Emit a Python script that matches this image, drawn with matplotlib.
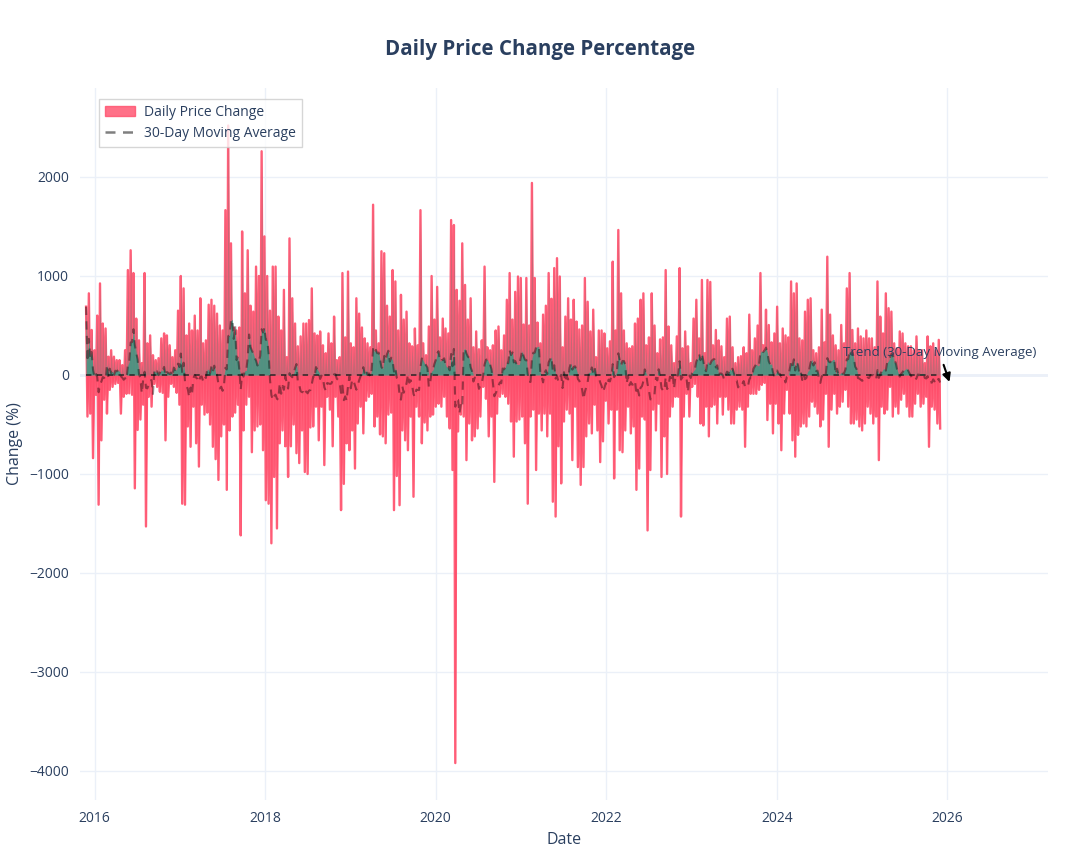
import matplotlib
matplotlib.use('Agg')
import matplotlib.pyplot as plt
import matplotlib.dates as mdates
import matplotlib.patches as mpatches
from matplotlib.lines import Line2D
import numpy as np
import pandas as pd

plt.rcParams['font.family'] = ['Open Sans', 'DejaVu Sans']

pct_2016 = [690, -420, 825, -390, 455, -840, 250, -200, 600, -1310, 925, -660, 520, -250, 470, -390,
            185, -150, 250, -120, 185, -90, 150, -80, 150, -390, 100, -220, 250, -190, 1060, -185,
            1260, -200, 1030, -1145, 570, -555, 350, -450, 120, -300, 1030, -1530, 320, -220, 400, -320,
            200, -90, 150, -120, 170, -170, 370, -180, 420, -660, 400, -220, 300, -90, 180, -120,
            250, -180, 650, -300, 1000, -1300, 875, -1310, 400, -520, 520, -725, 450, -320]
pct_2017 = [600, -690, 450, -925, 775, -300, 320, -400, 350, -380, 710, -500, 760, -725, 700, -850,
            620, -1060, 500, -620, 450, -500, 1665, -1160, 2520, -560, 1330, -420, 480, -380, 450, -300,
            480, -1620, 1450, -560, 825, -300, 1260, -220, 700, -780, 640, -560, 1095, -520, 1000, -500,
            2260, -760, 1400, -1265, 1000, -1300, 650, -1700, 1095, -1030, 1095, -1550, 590, -690, 450, -560,
            860, -720, 180, -1030, 1380, -720, 775, -500, 520, -790, 290, -890, 390, -560, 520, -980]
pct_2018 = [520, -1000, 555, -530, 875, -520, 420, -320, 400, -660, 440, -320, 300, -910, 220, -220,
            420, -350, 320, -720, 590, -220, 150, -420, 180, -1365, 1030, -1100, 380, -690, 1045, -760,
            320, -560, 280, -945, 775, -490, 620, -320, 480, -590, 370, -260, 320, -220, 280, -190,
            1720, -520, 450, -420, 320, -600, 1250, -620, 1230, -690, 700, -400, 590, -380, 1060, -1365,
            945, -1020, 450, -1315, 810, -560, 560, -660, 640, -760, 320, -420, 290, -1230]
pct_2019 = [470, -320, 300, -420, 1665, -690, 320, -480, 200, -560, 490, -420, 1000, -400, 560, -320,
            890, -290, 380, -320, 570, -220, 470, -420, 420, -540, 1565, -960, 1515, -3920, 860, -570,
            750, -400, 1330, -420, 910, -860, 560, -490, 775, -660, 280, -620, 440, -540, 260, -420,
            350, -120, 1095, -240, 280, -620, 250, -420, 300, -1080, 450, -390, 490, -220, 250, -190,
            400, -220, 760, -290, 1030, -470, 560, -825, 840, -470, 995, -450, 980, -420, 510, -690]
pct_2021 = [980, -1300, 500, -420, 1940, -350, 980, -960, 530, -390, 320, -560, 610, -390, 700, -620,
            1030, -390, 770, -1280, 1080, -1430, 1180, -720, 995, -1095, 280, -470, 590, -350, 775, -390,
            560, -860, 760, -320, 540, -930, 460, -1110, 500, -930, 980, -620, 740, -490, 440, -590,
            660, -300, 180, -560, 450, -880, 450, -670, 420, -260, 270, -490, 340, -350, 1145, -1045,
            450, -350, 1465, -760, 825, -780, 450, -560, 320, -320, 270, -590, 290, -520]
pct_2022 = [520, -1160, 570, -945, 760, -420, 825, -450, 300, -1570, 380, -960, 825, -350, 500, -560,
            220, -290, 360, -1030, 380, -620, 1060, -1000, 490, -420, 300, -320, 120, -220, 390, -220,
            1080, -1430, 270, -420, 440, -190, 290, -420, 120, -120, 570, -90, 760, -220, 370, -490,
            960, -510, 220, -320, 960, -620, 940, -320, 300, -300, 455, -490, 350, -220, 290, -400,
            180, -220, 570, -350, 590, -490, 280, -490, 120, -350, 180, -320, 190, -350]
pct_2023 = [280, -725, 220, -320, 610, -190, 250, -190, 370, -190, 500, -150, 1030, -100, 300, -80,
            660, -455, 505, -290, 330, -590, 420, -290, 690, -490, 320, -760, 470, -390, 400, -150,
            380, -390, 945, -660, 825, -825, 925, -605, 370, -520, 350, -490, 640, -520, 760, -420,
            775, -270, 250, -320, 220, -390, 280, -520, 660, -450, 330, -190, 1195, -725, 610, -350,
            400, -190, 300, -390, 250, -320, 505, -270, 320, -150, 875, -320, 1030, -490]
pct_2025 = [455, -490, 320, -450, 470, -520, 390, -560, 370, -490, 450, -320, 370, -390, 370, -490,
            280, -420, 945, -860, 590, -320, 420, -390, 825, -350, 675, -120, 640, -420, 320, -320,
            270, -390, 440, -250, 420, -190, 320, -320, 290, -420, 290, -420, 250, -290, 390, -190,
            250, -320, 250, -290, 120, -220, 390, -725, 290, -320, 320, -350, 250, -490, 355, -540]

pct_change = pct_2016 + pct_2017 + pct_2018 + pct_2019 + pct_2021 + pct_2022 + pct_2023 + pct_2025
start_date = '2015-11-25'
end_date = '2025-12-01'

dates = pd.date_range(start_date, end_date, periods=len(pct_change))
daily = pd.Series(pct_change, index=dates, dtype=float)
# 30-day window (31D so the window holds the full 30 days before each sample)
ma30 = daily.rolling('31D').mean()

red = '#ff4d6a'
teal = '#1fa487'
txt = '#2a3f5f'
grid = '#ebf0f8'

fig = plt.figure(figsize=(10.8, 8.64), dpi=100)
ax = fig.add_axes([80 / 1080, 64 / 864, 968 / 1080, 712 / 864])

ax.axhline(0, color=grid, lw=2, zorder=0)
neg = daily.clip(upper=0).values
pos = daily.clip(lower=0).values
ax.fill_between(dates, neg, 0, color=red, alpha=0.9, lw=0, zorder=1)
ax.fill_between(dates, 0, pos, color=red, alpha=0.6, lw=0, zorder=1)
ax.plot(dates, daily.values, color=red, lw=1.7, alpha=0.9, zorder=2)
ax.fill_between(dates, 0, pos, color='#4b8f82', alpha=0.3, lw=0, zorder=3)
ax.fill_between(dates, 0, ma30.clip(lower=0).values, color=teal, alpha=0.7, lw=0, zorder=3)
ax.hlines(0, dates[0], dates[-1], colors='#222222', linestyles=(0, (3, 3)), lw=1.3, alpha=0.8, zorder=4)
ax.plot(dates, ma30.values, color='black', alpha=0.4, lw=1.5, ls=(0, (4, 3)), zorder=5)

ax.set_xlim(pd.Timestamp('2015-10-30'), pd.Timestamp('2027-03-08'))
ax.set_ylim(-4293, 2899)
ax.xaxis.set_major_locator(mdates.YearLocator(2))
ax.xaxis.set_major_formatter(mdates.DateFormatter('%Y'))
ax.set_yticks(range(-4000, 2001, 1000))
ax.grid(True, color=grid, lw=1)
ax.set_axisbelow(True)
for s in ax.spines.values():
    s.set_visible(False)
ax.tick_params(length=0, labelsize=10, colors=txt, pad=8)
ax.set_xlabel('Date', fontsize=11.5, color=txt, labelpad=4)
ax.set_ylabel('Change (%)', fontsize=11.5, color=txt, labelpad=4)

fig.suptitle('Daily Price Change Percentage', x=0.5, y=1 - 49 / 864, va='center',
             fontsize=14.8, fontweight='bold', color=txt)

ax.annotate('Trend (30-Day Moving Average)', xy=(pd.Timestamp('2026-01-10'), -70),
            xytext=(-10, 29), textcoords='offset pixels', ha='center', va='center',
            fontsize=9.5, color=txt, zorder=6,
            arrowprops=dict(arrowstyle='-|>', color='black', lw=1.5, shrinkA=2, shrinkB=0,
                            mutation_scale=12))

handles = [mpatches.Patch(facecolor=red, alpha=0.8, edgecolor=red, lw=1),
           Line2D([0], [0], color='black', alpha=0.5, lw=1.8, ls=(0, (4, 3)))]
leg = ax.legend(handles, ['Daily Price Change', '30-Day Moving Average'], loc='upper left',
                bbox_to_anchor=(0.012, 0.995), fontsize=10, frameon=True, fancybox=False,
                framealpha=0.8, edgecolor='#cccccc', handlelength=2.2, borderpad=0.45,
                labelspacing=0.45, handletextpad=0.6)
leg.get_frame().set_linewidth(1)
for t in leg.get_texts():
    t.set_color(txt)

plt.savefig('out.png', dpi=100)
